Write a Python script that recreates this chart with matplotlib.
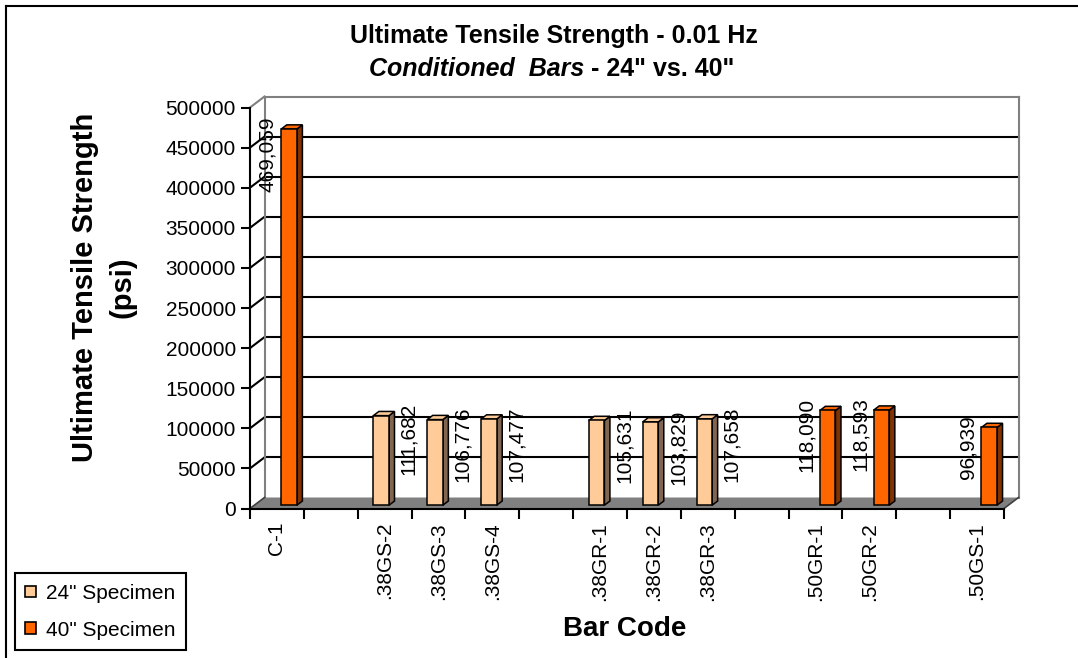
import matplotlib
matplotlib.use("Agg")
import matplotlib.pyplot as plt
from matplotlib.patches import Polygon, Patch
from matplotlib.lines import Line2D
from matplotlib.transforms import offset_copy

plt.rcParams['font.family'] = ['Liberation Sans', 'DejaVu Sans']

# ---- data -------------------------------------------------------------
categories = ["C-1", "", ".38GS-2", ".38GS-3", ".38GS-4", "",
              ".38GR-1", ".38GR-2", ".38GR-3", "",
              ".50GR-1", ".50GR-2", "", ".50GS-1"]
spec_24 = [None, None, 111682, 106776, 107477, None,
           105631, 103829, 107658, None, None, None, None, None]
spec_40 = [469059, None, None, None, None, None,
           None, None, None, None, 118090, 118593, None, 96939]
series_names = ['24" Specimen', '40" Specimen']
y_ticks = list(range(0, 500001, 50000))

front_colors = ["#FFCC99", "#FF6600"]
side_colors = ["#806650", "#803300"]

# ---- figure / axes ----------------------------------------------------
W, H, DPI = 1078, 658, 100
fig = plt.figure(figsize=(W / DPI, H / DPI), dpi=DPI)
fig.patch.set_facecolor("white")

ax_left, ax_right, ax_bottom, ax_top = 250, 1004, 508.5, 107.5
ax = fig.add_axes([ax_left / W, (H - ax_bottom) / H,
                   (ax_right - ax_left) / W, (ax_bottom - ax_top) / H])
n = len(categories)
ymax = y_ticks[-1]
ax.set_xlim(0, n)
ax.set_ylim(0, ymax)
ax.set_facecolor("none")

# depth of the pseudo-3D box, in data units
px_x = n / (ax_right - ax_left)
px_y = ymax / (ax_bottom - ax_top)
DX = 14.5 * px_x
DY = 11 * px_y

for s in ("top", "right"):
    ax.spines[s].set_visible(False)
for s in ("left", "bottom"):
    ax.spines[s].set_color("black")
    ax.spines[s].set_linewidth(1.5)
    ax.spines[s].set_zorder(6)

ax.set_yticks(y_ticks)
ax.set_yticklabels([str(v) for v in y_ticks], fontsize=15)
ax.tick_params(axis="y", direction="out", length=6.5, width=1.5, pad=3.6)

ax.set_xticks(range(n + 1))
ax.set_xticklabels([])
ax.set_xticks([i + 0.5 for i in range(n)], minor=True)
ax.set_xticklabels(categories, minor=True, rotation=90, fontsize=15)
ax.tick_params(axis="x", which="major", direction="out", length=7.2, width=1.5)
ax.tick_params(axis="x", which="minor", length=0, pad=9.7)

gray = "#808080"
# floor
ax.add_patch(Polygon([(0, 0), (n, 0), (n + DX, DY), (DX, DY)], closed=True,
                     facecolor=gray, edgecolor="none", clip_on=False, zorder=1))
ax.plot([n, n + DX], [0, DY], color="#404040", lw=1.2, clip_on=False, zorder=2)
ax.plot([0, DX], [0, DY], color="#404040", lw=1.2, clip_on=False, zorder=2)

# back wall gridlines and side-wall diagonals
for t in y_ticks[1:-1]:
    ax.plot([DX, n + DX], [t + DY, t + DY], color="black", lw=1.5,
            clip_on=False, zorder=1)
    ax.plot([0, DX], [t, t + DY], color="black", lw=1.5, clip_on=False, zorder=1)

# wall edges
ax.plot([DX, n + DX], [ymax + DY, ymax + DY], color=gray, lw=1.5, clip_on=False, zorder=1)
ax.plot([DX, DX], [DY, ymax + DY], color=gray, lw=1.5, clip_on=False, zorder=1)
ax.plot([n + DX, n + DX], [DY, ymax + DY], color=gray, lw=1.5, clip_on=False, zorder=1)
ax.plot([0, DX], [ymax, ymax + DY], color=gray, lw=1.5, clip_on=False, zorder=1)

# ---- 3D columns -------------------------------------------------------
bar_w = 0.29
depth_front, depth_len = 0.3, 0.38
f0, f1 = depth_front, depth_front + depth_len
label_dx_px = [24, -9]


def draw_column(x0, v, fc, sc):
    x1 = x0 + bar_w
    front = [(x0 + f0 * DX, f0 * DY), (x1 + f0 * DX, f0 * DY),
             (x1 + f0 * DX, v + f0 * DY), (x0 + f0 * DX, v + f0 * DY)]
    side = [(x1 + f0 * DX, f0 * DY), (x1 + f1 * DX, f1 * DY),
            (x1 + f1 * DX, v + f1 * DY), (x1 + f0 * DX, v + f0 * DY)]
    top = [(x0 + f0 * DX, v + f0 * DY), (x1 + f0 * DX, v + f0 * DY),
           (x1 + f1 * DX, v + f1 * DY), (x0 + f1 * DX, v + f1 * DY)]
    for pts, c in ((side, sc), (top, fc), (front, fc)):
        ax.add_patch(Polygon(pts, closed=True, facecolor=c, edgecolor="black",
                             linewidth=1.1, joinstyle="miter", clip_on=False, zorder=3))


for k, series in enumerate((spec_24, spec_40)):
    for i, v in enumerate(series):
        if v is None:
            continue
        x0 = i + 0.5 - bar_w if k == 0 else i + 0.5
        draw_column(x0, v, front_colors[k], side_colors[k])
        tr = offset_copy(ax.transData, fig=fig, x=label_dx_px[k], y=16, units="dots")
        ax.text(i + 0.5, v, f"{v:,}", transform=tr, rotation=90,
                ha="center", va="top", fontsize=15, zorder=5, clip_on=False)

# ---- titles -----------------------------------------------------------
fig.text(554 / W, 1 - 43 / H, "Ultimate Tensile Strength - 0.01 Hz",
         fontsize=18, weight="bold", ha="center", va="baseline")

renderer = fig.canvas.get_renderer()
t1 = fig.text(0, 1 - 76 / H, "Conditioned  Bars", fontsize=18, weight="bold",
              style="italic", ha="left", va="baseline")
t2 = fig.text(0, 1 - 76 / H, ' - 24" vs. 40"', fontsize=18, weight="bold",
              ha="left", va="baseline")
w1 = t1.get_window_extent(renderer).width
w2 = t2.get_window_extent(renderer).width
start = 552 - (w1 + w2) / 2
t1.set_x(start / W)
t2.set_x((start + w1) / W)

fig.text(104 / W, 1 - 287 / H, "Ultimate Tensile Strength\n(psi)", rotation=90,
         fontsize=21, weight="bold", ha="center", va="center",
         multialignment="center", linespacing=1.45)
fig.text(625 / W, 1 - 629 / H, "Bar Code", fontsize=20, weight="bold",
         ha="center", va="center")

# ---- legend -----------------------------------------------------------
handles = [Patch(facecolor=c, edgecolor="black", linewidth=1.2) for c in front_colors]
leg = fig.legend(handles, series_names, loc="lower left",
                 bbox_to_anchor=(15 / W, (H - 650) / H), fontsize=15,
                 frameon=True, fancybox=False, edgecolor="black", framealpha=1,
                 handlelength=0.5, handleheight=0.5, handletextpad=0.5,
                 borderpad=0.5, labelspacing=0.85, borderaxespad=0)
leg.get_frame().set_linewidth(1.5)

# ---- outer frame (top and left edges) ---------------------------------
fig.add_artist(Line2D([6 / W, 1], [1 - 6 / H, 1 - 6 / H], transform=fig.transFigure,
                      color="black", lw=1.5))
fig.add_artist(Line2D([6 / W, 6 / W], [0, 1 - 6 / H], transform=fig.transFigure,
                      color="black", lw=1.5))

fig.savefig("out.png", dpi=DPI)
